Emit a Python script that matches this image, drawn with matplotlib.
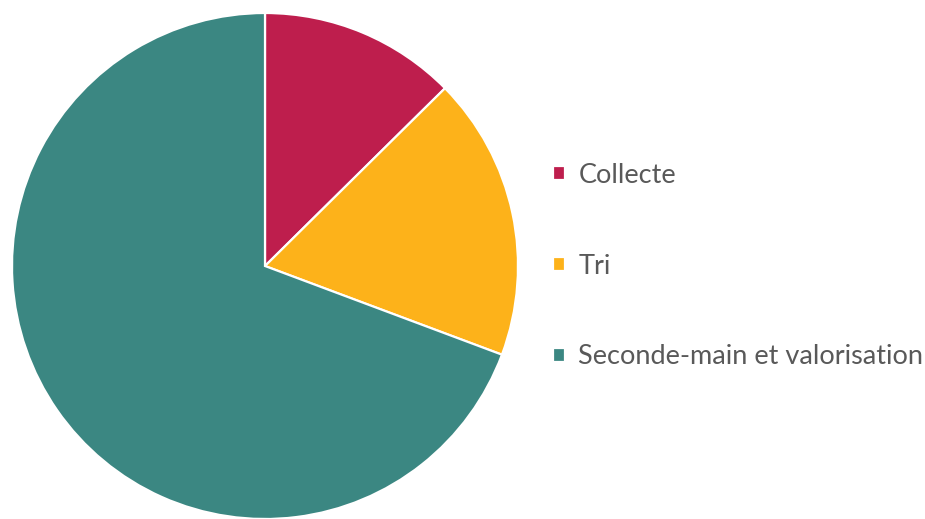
import matplotlib
matplotlib.use("Agg")
import matplotlib.pyplot as plt

# données (parts en %)
labels = ['Collecte', 'Tri', 'Seconde-main et valorisation']
values = [12.6, 18.1, 69.3]
colors = ['#BE1E4D', '#FDB21A', '#3B8782']

plt.rcParams['font.family'] = ['Lato', 'DejaVu Sans']

fig = plt.figure(figsize=(9.25, 5.19), dpi=100)
W, H = 925, 519
cx, cy, r = 265, 266, 253
ax = fig.add_axes([(cx - r) / W, (H - cy - r) / H, 2 * r / W, 2 * r / H])

wedges, _ = ax.pie(values, colors=colors, startangle=90, counterclock=False,
                   radius=1.0, wedgeprops=dict(edgecolor='white', linewidth=1.6))
ax.set_xlim(-1, 1)
ax.set_ylim(-1, 1)
ax.set_aspect('equal')
ax.axis('off')

leg = ax.legend(wedges, labels, loc='center left',
                bbox_to_anchor=(529 / W, (H - 266) / H), bbox_transform=fig.transFigure,
                frameon=False, fontsize=19.5, labelspacing=2.43,
                handlelength=0.42, handleheight=0.42, handletextpad=0.5)
for t in leg.get_texts():
    t.set_color('#595959')

fig.savefig('out.png', dpi=100)
